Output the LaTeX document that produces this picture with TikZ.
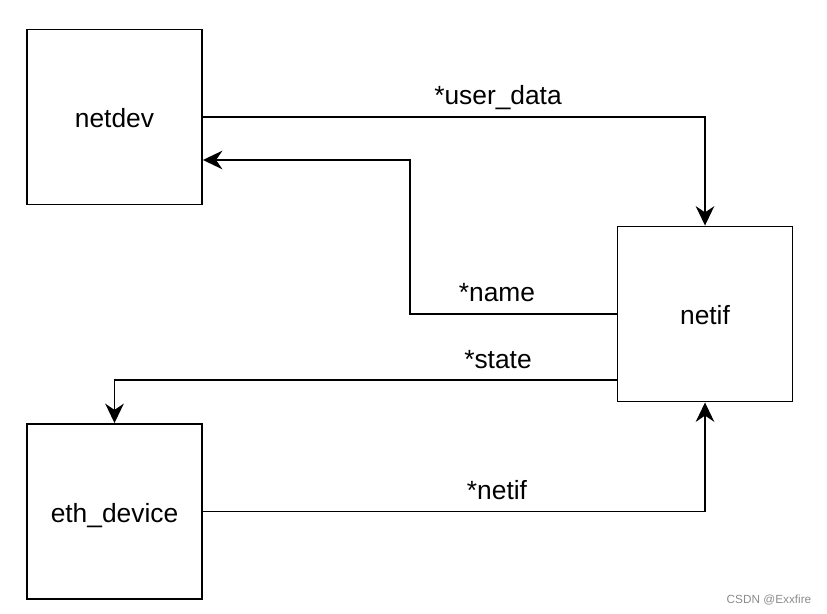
\documentclass[tikz,border=0pt]{standalone}
\usepackage{fontspec}
\setmainfont{Liberation Sans}
\usetikzlibrary{arrows.meta}
\begin{document}
\begin{tikzpicture}[x=0.02cm,y=-0.02cm,>={Stealth[length=11pt,width=10.5pt,inset=3.5pt]},line width=1.1pt]
\fontsize{15}{18}\selectfont
\tikzstyle{box}=[draw=black,rectangle,line width=1.1pt,minimum width=3.5cm,minimum height=3.5cm,text height=12.4pt,text depth=0pt]
\tikzstyle{lbl}=[inner sep=0pt,anchor=base]
\useasboundingbox (0,0) rectangle (827,614);
\node[box] (ND) at (114.5,117) {netdev};
\node[box] (NI) at (705,314) {netif};
\node[box] (ED) at (114.5,511.5) {eth\_device};
\draw[->] (ND) -| (NI);
\draw[->] (NI.west) -- (410,314) |- (ND.east |- 0,160);
\draw[->] (NI.west |- 0,380) -| (ED);
\draw[->] (ED) -| (NI);
\node[lbl] (UD) at (498,105) {*user\_data};
\node[lbl] (NA) at (497,302) {*name};
\node[lbl] (STA) at (498,368) {*state};
\node[lbl] (NF) at (497,499) {*netif};
\node[text=black!45,font=\fontsize{6.7}{8}\selectfont] (WM) at (769,600) {CSDN @Exxfire};
\end{tikzpicture}
\end{document}
